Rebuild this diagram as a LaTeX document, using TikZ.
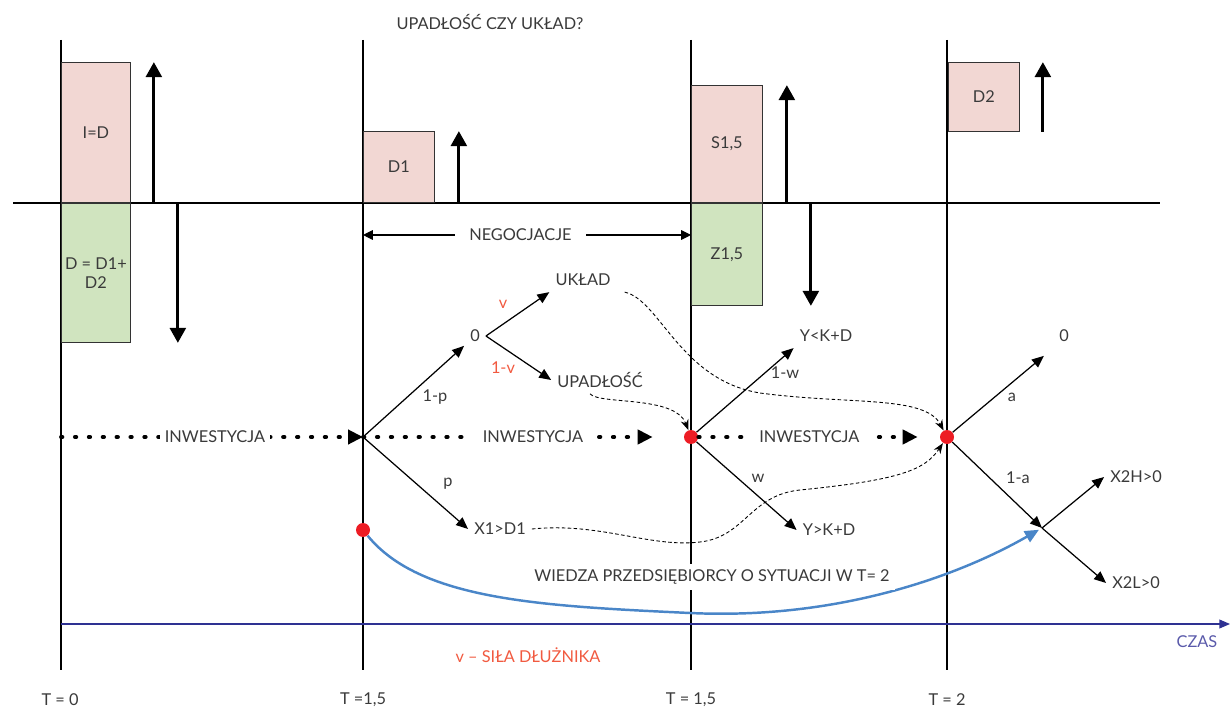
\documentclass[tikz,border=0pt]{standalone}
\usepackage{fontspec}
\setmainfont{Lato}
\usetikzlibrary{arrows.meta, positioning, calc}
\definecolor{boxpink}{HTML}{F2D7D3}
\definecolor{boxgreen}{HTML}{D0E4BF}
\definecolor{txtgray}{HTML}{3A3A3A}
\definecolor{dotred}{HTML}{ED1C24}
\definecolor{probred}{HTML}{F15A40}
\definecolor{knowblue}{HTML}{4A86C8}
\definecolor{axisblue}{HTML}{2E3192}
\definecolor{czasblue}{HTML}{5A5AAA}

\begin{document}
\begin{tikzpicture}[
    x=0.02cm, y=-0.02cm,
    font=\fontsize{9.3}{11}\selectfont, text=txtgray,
    pinkbox/.style={draw=black!80, fill=boxpink, line width=0.5pt, minimum width=1.42cm, inner sep=0pt},
    greenbox/.style={draw=black!80, fill=boxgreen, line width=0.5pt, minimum width=1.42cm, inner sep=0pt, align=center},
    flowarrow/.style={line width=1.7pt, -{Triangle[length=8.5pt, width=9pt]}},
    branch/.style={line width=0.7pt, -{Triangle[length=6.8pt, width=5.7pt]}},
    invest/.style={line width=2.2pt, line cap=round, dash pattern=on 0.8pt off 7.1pt, -{Triangle[length=8.5pt, width=8pt]}},
    guess/.style={line width=0.5pt, dash pattern=on 2pt off 1.4pt, -{Stealth[length=6pt, width=4.5pt]}},
    reddot/.style={circle, fill=dotred, inner sep=0pt, minimum size=0.28cm},
    prob/.style={text=probred},
    gap/.style={fill=white, inner sep=3pt},
]
  \useasboundingbox (0,0) rectangle (1230,709);

  % time lines and zero line
  \foreach \tx in {61,363,691,947}
    \draw[line width=0.6pt] (\tx,40) -- (\tx,670);
  \draw[line width=0.6pt] (13,203) -- (1160,203);

  \node (title) at (490,22) {UPADŁOŚĆ CZY UKŁAD?};

  % balance boxes
  \node[pinkbox, minimum width=1.38cm, minimum height=2.8cm, anchor=south west] (bID) at (61,203) {I=D};
  \node[greenbox, minimum width=1.38cm, minimum height=2.78cm, anchor=north west] (bD) at (61,203) {D = D1+\\D2};
  \node[pinkbox, minimum height=1.42cm, anchor=south west] (bD1) at (363,203) {D1};
  \node[pinkbox, minimum height=2.34cm, anchor=south west] (bS) at (691,203) {S1,5};
  \node[greenbox, minimum height=2.04cm, anchor=north west] (bZ) at (691,203) {Z1,5};
  \node[pinkbox, minimum height=1.38cm, anchor=south west] (bD2) at (948,132) {D2};

  \draw[flowarrow] ([xshift=0.46cm]bID.south east) -- ([xshift=0.46cm]bID.north east);
  \draw[flowarrow] ([xshift=0.94cm]bD.north east) -- ([xshift=0.94cm]bD.south east);
  \draw[flowarrow] ([xshift=0.48cm]bD1.south east) -- ([xshift=0.48cm]bD1.north east);
  \draw[flowarrow] ([xshift=0.48cm]bS.south east) -- ([xshift=0.48cm]bS.north east);
  \draw[flowarrow] ([xshift=0.96cm]bZ.north east) -- ([xshift=0.96cm]bZ.south east);
  \draw[flowarrow] ([xshift=0.46cm]bD2.south east) -- ([xshift=0.46cm]bD2.north east);

  % negotiation span
  \coordinate (negL) at (363,235);
  \coordinate (negR) at (691,235);
  \draw[line width=0.6pt, {Triangle[length=5.6pt, width=5.5pt]}-{Triangle[length=5.6pt, width=5.5pt]}]
    (negL) -- node[gap, inner xsep=8pt, pos=0.48] {NEGOCJACJE} (negR);

  % investment line
  \coordinate (start) at (61,437);
  \coordinate (root) at (363,437);
  \node[reddot] (d3) at (691,437) {};
  \node[reddot] (d4) at (947,437) {};
  \node[reddot] (d1) at (363,530) {};
  \draw[invest] (start) -- node[gap, pos=0.51] {INWESTYCJA} (root);
  \draw[invest, shorten >=0.62cm] (root) -- node[gap, inner xsep=6pt, pos=0.53] {INWESTYCJA} (d3);
  \draw[invest, shorten >=0.44cm] (d3) -- node[gap, inner xsep=6pt, pos=0.46] {INWESTYCJA} (d4);

  % tree at T=1,5
  \node (zero) at (475,336) {0};
  \node (x1) at (500,529) {X1>D1};
  \node (ukl) at (583,280) {UKŁAD};
  \node (upad) at (600,380) {UPADŁOŚĆ};
  \draw[branch] (root) -- (zero);
  \draw[branch] (root) -- (x1.west);
  \draw[branch] (zero.east) -- (ukl.south west);
  \draw[branch] (zero.east) -- (upad.west);
  \node (p1) at (435,397) {1-p};
  \node (p2) at (448,484) {p};
  \node[prob] (v1) at (503,304) {v};
  \node[prob] (v2) at (503,368) {1-v};

  % tree at second T=1,5
  \node (ylt) at (826,336) {Y<K+D};
  \node (ygt) at (829,530) {Y>K+D};
  \draw[branch] (d3) -- (ylt.south west);
  \draw[branch] (d3) -- (ygt.west);
  \node (w1) at (785,373) {1-w};
  \node (w2) at (758,478) {w};

  % tree at T=2
  \node (z2) at (1064,336) {0};
  \coordinate (split) at (1042,528);
  \node (x2h) at (1136,477) {X2H>0};
  \node (x2l) at (1136,583) {X2L>0};
  \draw[branch, shorten >=0.24cm] (d4) -- (z2.south west);
  \draw[branch] (d4) -- (split);
  \draw[branch] (split) -- (x2h.west);
  \draw[branch] (split) -- (x2l.west);
  \node (a1) at (1012,397) {a};
  \node (a2) at (1018,478) {1-a};

  % where the outcomes lead
  \draw[guess] ([xshift=0.16cm]ukl.south east) .. controls (660,300) and (680,380) .. (760,393)
    .. controls (850,405) and (925,395) .. (d4);
  \draw[guess] ([xshift=-0.2cm]upad.south) .. controls (600,405) and (675,395) .. (d3);
  \draw[guess] (x1.east) .. controls (600,522) and (650,548) .. (700,542)
    .. controls (745,537) and (750,495) .. (800,490)
    .. controls (900,480) and (925,470) .. (d4);

  % entrepreneur's knowledge
  \draw[line width=1.4pt, knowblue, -{Triangle[length=8pt, width=7pt]}, shorten >=2pt]
    (d1) .. controls (420,600) and (540,606) .. (690,613)
    .. controls (840,620) and (960,575) .. (split);
  \node[gap] (know) at (712,577) {WIEDZA PRZEDSIĘBIORCY O SYTUACJI W T= 2};

  % time axis
  \coordinate (axL) at (61,624);
  \coordinate (axR) at (1230,624);
  \draw[line width=0.6pt, axisblue, -{Triangle[length=6pt, width=5pt]}] (axL) -- (axR);
  \node[text=czasblue] (czas) at (1197,642) {CZAS};
  \node[prob] (sila) at (528,655) {v – SIŁA DŁUŻNIKA};

  \node (t0) at (60,700) {T = 0};
  \node (t1) at (363,700) {T =1,5};
  \node (t2) at (691,700) {T = 1,5};
  \node (t3) at (947,700) {T = 2};
\end{tikzpicture}
\end{document}
